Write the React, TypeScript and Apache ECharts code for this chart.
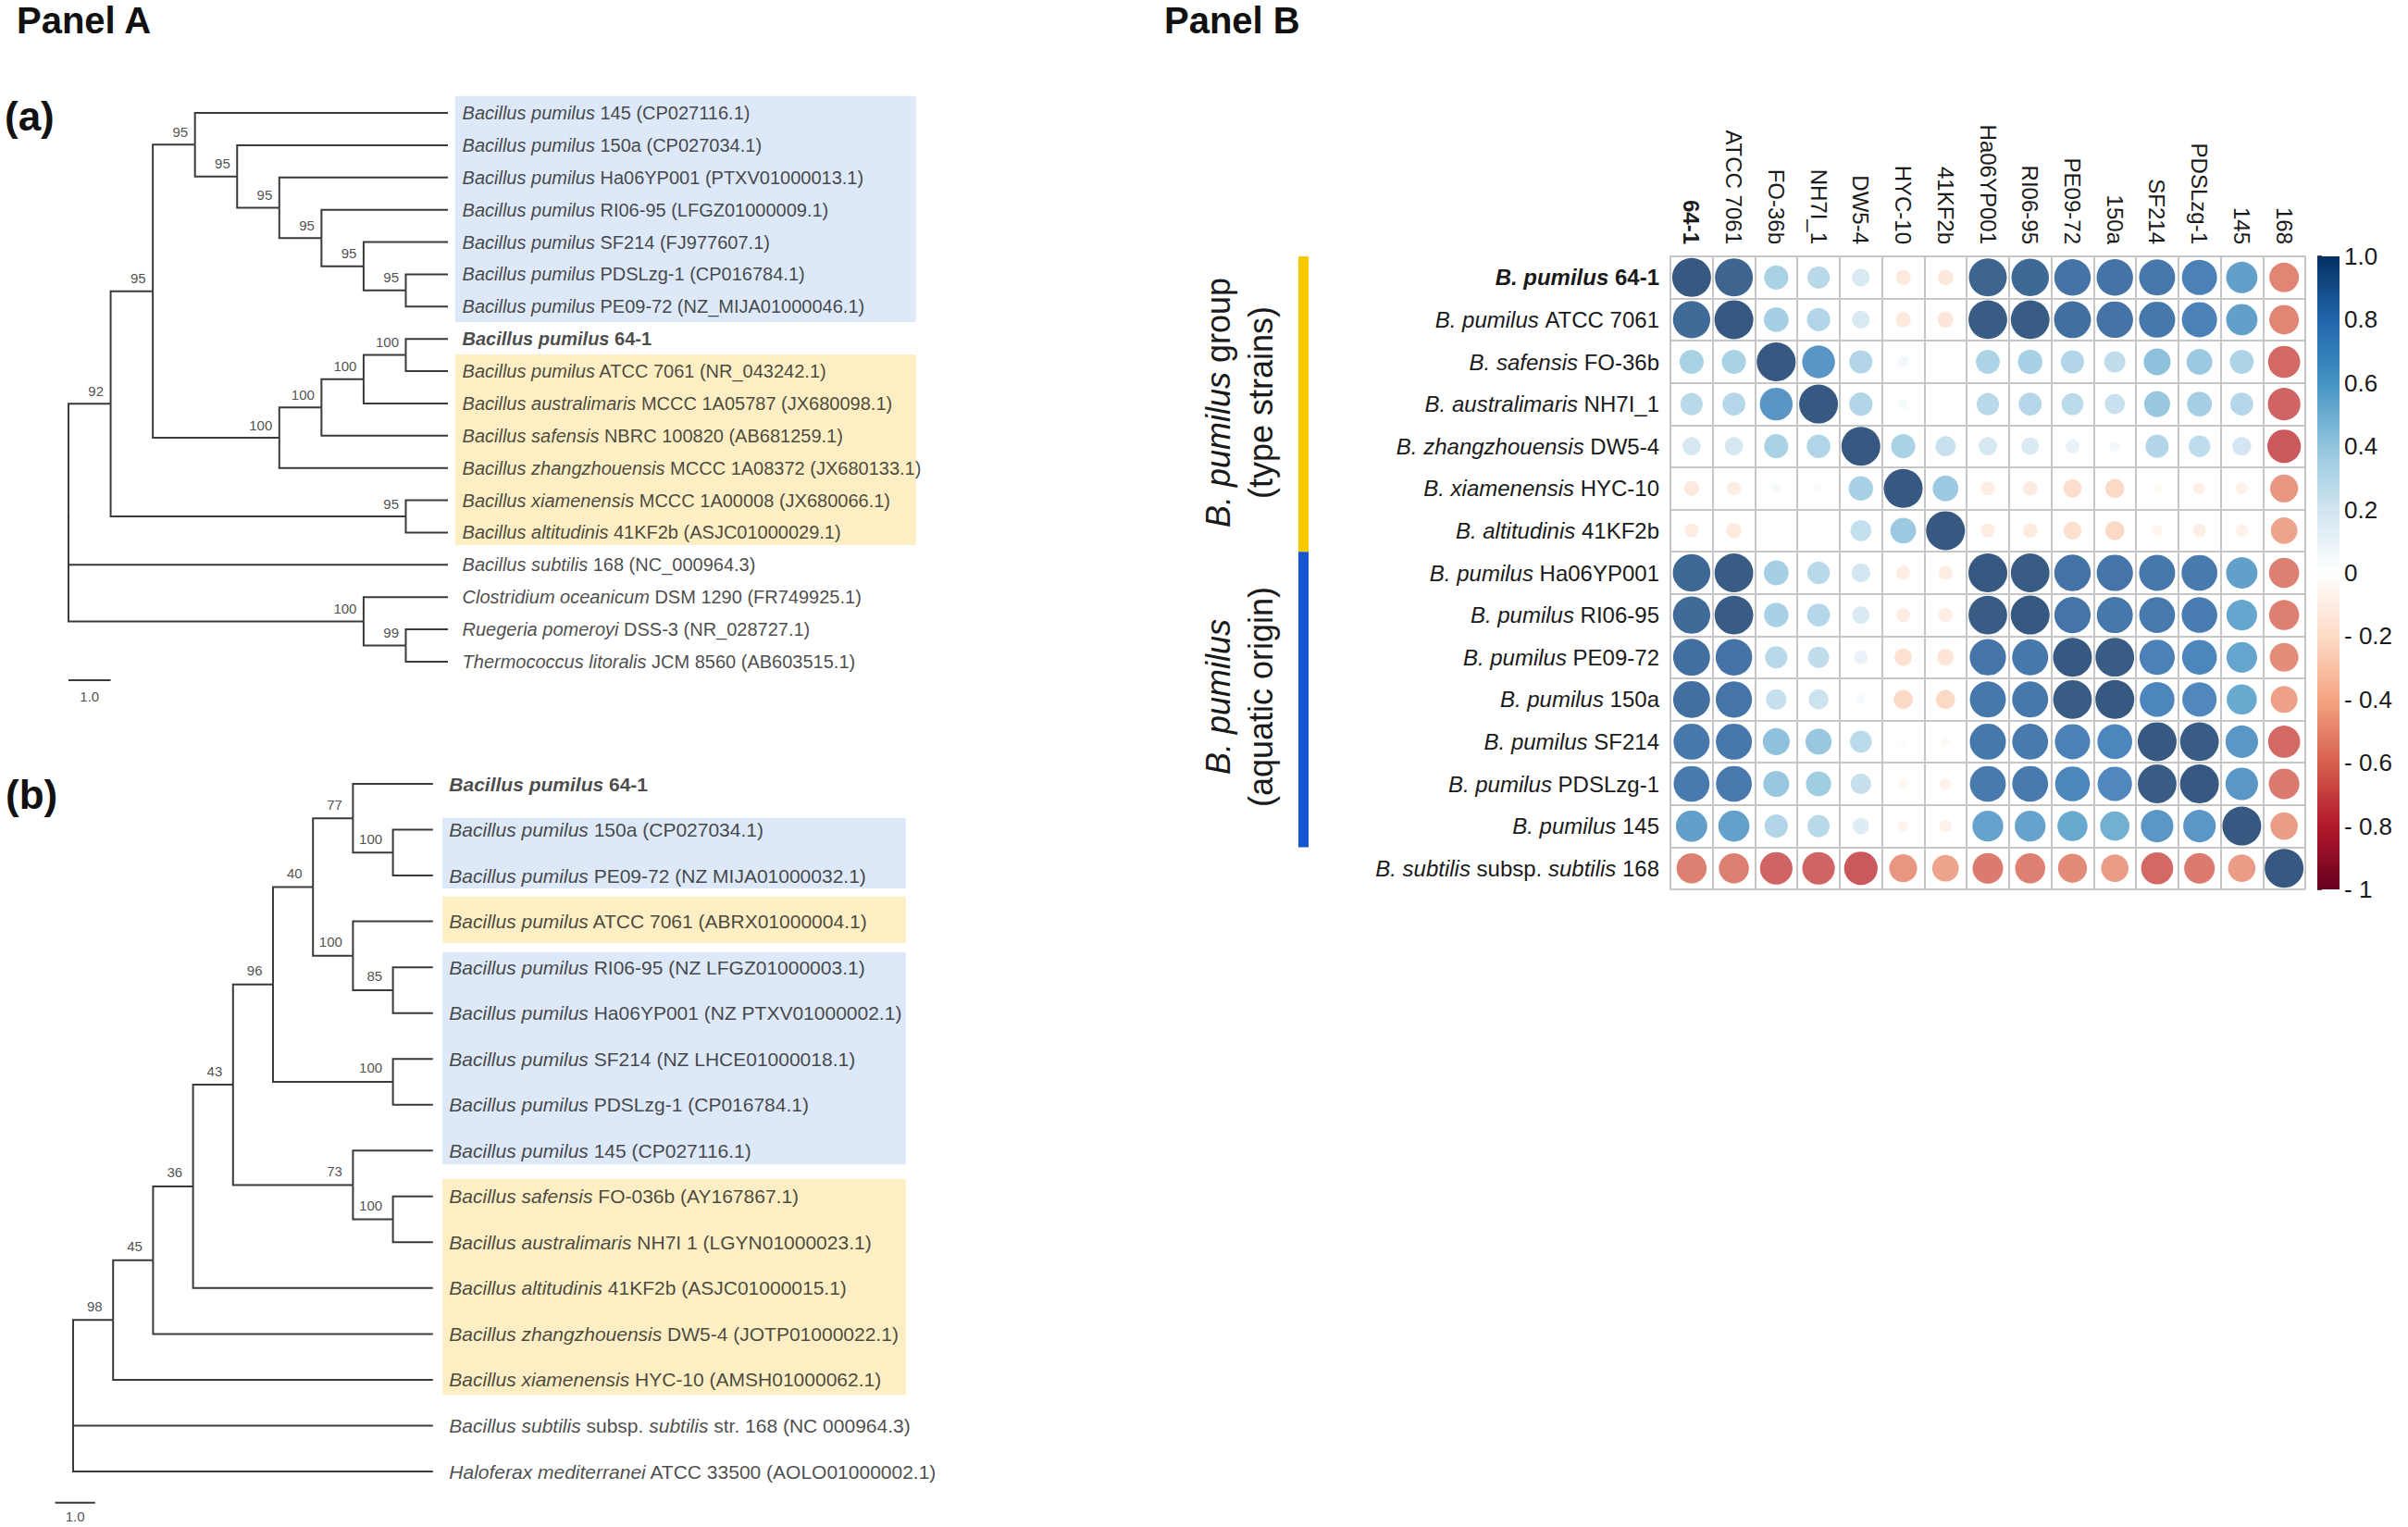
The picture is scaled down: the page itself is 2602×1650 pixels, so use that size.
import React, { useEffect, useRef } from 'react';
import * as echarts from 'echarts';

const FONT = '"Liberation Sans", Arial, Helvetica, sans-serif';
const INK = '#1a1a1a';
const TREE_LINE = '#3a3a3a';

// ---------------- Panel A (a) ----------------
const treeALeaves = [
  '*Bacillus pumilus* 145 (CP027116.1)',
  '*Bacillus pumilus* 150a (CP027034.1)',
  '*Bacillus pumilus* Ha06YP001 (PTXV01000013.1)',
  '*Bacillus pumilus* RI06-95 (LFGZ01000009.1)',
  '*Bacillus pumilus* SF214 (FJ977607.1)',
  '*Bacillus pumilus* PDSLzg-1 (CP016784.1)',
  '*Bacillus pumilus* PE09-72 (NZ_MIJA01000046.1)',
  '*Bacillus pumilus* 64-1',
  '*Bacillus pumilus* ATCC 7061 (NR_043242.1)',
  '*Bacillus australimaris* MCCC 1A05787 (JX680098.1)',
  '*Bacillus safensis* NBRC 100820 (AB681259.1)',
  '*Bacillus zhangzhouensis* MCCC 1A08372 (JX680133.1)',
  '*Bacillus xiamenensis* MCCC 1A00008 (JX680066.1)',
  '*Bacillus altitudinis* 41KF2b (ASJC01000029.1)',
  '*Bacillus subtilis* 168 (NC_000964.3)',
  '*Clostridium oceanicum* DSM 1290 (FR749925.1)',
  '*Ruegeria pomeroyi* DSS-3 (NR_028727.1)',
  '*Thermococcus litoralis* JCM 8560 (AB603515.1)',
];
const treeABoldLeaf = 7;
// node = [support, ...children]; leaf = index into treeALeaves
const treeATopology: any = ['',
  ['92',
    ['95',
      ['95', 0, ['95', 1, ['95', 2, ['95', 3, ['95', 4, ['95', 5, 6]]]]]],
      ['100', ['100', ['100', ['100', 7, 8], 9], 10], 11]],
    ['95', 12, 13]],
  14,
  ['100', 15, ['99', 16, 17]]];
// [x0, y0, x1, y1, colour index]
const treeABoxes = [
  [9.17, -0.52, 20.1, 6.48, 0],
  [9.17, 7.48, 20.1, 13.39, 1],
];
const treeAScaleBar = [[0, 17.57], [1, 17.57]];
const treeAScaleLabel = [[0.5, 18.08, '1.0']];

// ---------------- Panel A (b) ----------------
const treeBLeaves = [
  '*Bacillus pumilus* 64-1',
  '*Bacillus pumilus* 150a (CP027034.1)',
  '*Bacillus pumilus* PE09-72 (NZ MIJA01000032.1)',
  '*Bacillus pumilus* ATCC 7061 (ABRX01000004.1)',
  '*Bacillus pumilus* RI06-95 (NZ LFGZ01000003.1)',
  '*Bacillus pumilus* Ha06YP001 (NZ PTXV01000002.1)',
  '*Bacillus pumilus* SF214 (NZ LHCE01000018.1)',
  '*Bacillus pumilus* PDSLzg-1 (CP016784.1)',
  '*Bacillus pumilus* 145 (CP027116.1)',
  '*Bacillus safensis* FO-036b (AY167867.1)',
  '*Bacillus australimaris* NH7I 1 (LGYN01000023.1)',
  '*Bacillus altitudinis* 41KF2b (ASJC01000015.1)',
  '*Bacillus zhangzhouensis* DW5-4 (JOTP01000022.1)',
  '*Bacillus xiamenensis* HYC-10 (AMSH01000062.1)',
  '*Bacillus subtilis* subsp. *subtilis* str. 168 (NC 000964.3)',
  '*Haloferax mediterranei* ATCC 33500 (AOLO01000002.1)',
];
const treeBBoldLeaf = 0;
const treeBTopology: any = ['',
  ['98',
    ['45',
      ['36',
        ['43',
          ['96',
            ['40', ['77', 0, ['100', 1, 2]], ['100', 3, ['85', 4, 5]]],
            ['100', 6, 7]],
          ['73', 8, ['100', 9, 10]]],
        11],
      12],
    13],
  14,
  15];
const treeBBoxes = [
  [9.24, 0.74, 20.83, 2.28, 0],
  [9.24, 2.46, 20.83, 3.47, 1],
  [9.24, 3.67, 20.83, 8.30, 0],
  [9.24, 8.62, 20.83, 13.33, 1],
];
const treeBScaleBar = [[-0.45, 15.68], [0.55, 15.68]];
const treeBScaleLabel = [[0.05, 15.98, '1.0']];

const boxColors = ['#dde8f8', '#fdefc3'];

// ---------------- Panel B ----------------
const strainCols = ['64-1', 'ATCC 7061', 'FO-36b', 'NH7I_1', 'DW5-4', 'HYC-10', '41KF2b', 'Ha06YP001',
  'RI06-95', 'PE09-72', '150a', 'SF214', 'PDSLzg-1', '145', '168'];
const strainRows = [
  '*B. pumilus* 64-1',
  '*B. pumilus* ATCC 7061',
  '*B. safensis* FO-36b',
  '*B. australimaris* NH7I_1',
  '*B. zhangzhouensis* DW5-4',
  '*B. xiamenensis* HYC-10',
  '*B. altitudinis* 41KF2b',
  '*B. pumilus* Ha06YP001',
  '*B. pumilus* RI06-95',
  '*B. pumilus* PE09-72',
  '*B. pumilus* 150a',
  '*B. pumilus* SF214',
  '*B. pumilus* PDSLzg-1',
  '*B. pumilus* 145',
  '*B. subtilis* subsp. *subtilis* 168',
];
const boldIndex = 0;

const corr64_1 = [1.00, 0.95, 0.39, 0.33, 0.21, -0.15, -0.16, 0.95, 0.93, 0.88, 0.88, 0.86, 0.82, 0.65, -0.58];
const corrATCC = [0.92, 1.00, 0.41, 0.36, 0.21, -0.15, -0.17, 0.99, 0.99, 0.90, 0.88, 0.86, 0.82, 0.65, -0.58];
const corrFO36b = [0.39, 0.39, 1.00, 0.71, 0.36, 0.08, 0.01, 0.38, 0.40, 0.36, 0.30, 0.48, 0.44, 0.38, -0.68];
const corrNH7I = [0.33, 0.35, 0.71, 1.00, 0.36, 0.06, 0.01, 0.33, 0.35, 0.32, 0.27, 0.45, 0.41, 0.35, -0.70];
const corrDW54 = [0.22, 0.22, 0.39, 0.37, 1.00, 0.39, 0.27, 0.22, 0.20, 0.12, 0.07, 0.36, 0.31, 0.23, -0.74];
const corrHYC10 = [-0.15, -0.13, 0.06, 0.05, 0.40, 1.00, 0.44, -0.13, -0.14, -0.22, -0.24, -0.05, -0.10, -0.10, -0.52];
const corr41KF2b = [-0.13, -0.15, 0.00, 0.01, 0.29, 0.44, 1.00, -0.13, -0.14, -0.21, -0.24, -0.07, -0.11, -0.10, -0.47];
const corrHa06 = [0.93, 0.99, 0.41, 0.34, 0.23, -0.13, -0.13, 1.00, 0.99, 0.88, 0.87, 0.86, 0.85, 0.65, -0.60];
const corrRI06 = [0.92, 0.99, 0.40, 0.35, 0.20, -0.13, -0.13, 0.99, 1.00, 0.87, 0.86, 0.85, 0.84, 0.62, -0.60];
const corrPE09 = [0.90, 0.88, 0.33, 0.30, 0.12, -0.20, -0.18, 0.87, 0.86, 1.00, 0.99, 0.82, 0.80, 0.62, -0.55];
const corr150a = [0.90, 0.87, 0.28, 0.26, 0.06, -0.24, -0.24, 0.86, 0.86, 0.99, 1.00, 0.80, 0.78, 0.60, -0.48];
const corrSF214 = [0.86, 0.86, 0.48, 0.45, 0.32, -0.03, -0.05, 0.86, 0.85, 0.82, 0.80, 1.00, 0.99, 0.70, -0.68];
const corrPDSL = [0.85, 0.85, 0.45, 0.42, 0.28, -0.06, -0.09, 0.85, 0.85, 0.80, 0.78, 0.99, 1.00, 0.70, -0.62];
const corr145 = [0.65, 0.64, 0.36, 0.33, 0.18, -0.08, -0.10, 0.63, 0.63, 0.60, 0.57, 0.70, 0.70, 1.00, -0.50];
const corr168 = [-0.60, -0.60, -0.70, -0.70, -0.74, -0.52, -0.47, -0.62, -0.60, -0.56, -0.50, -0.68, -0.62, -0.50, 1.00];
const corrRows = [corr64_1, corrATCC, corrFO36b, corrNH7I, corrDW54, corrHYC10, corr41KF2b, corrHa06, corrRI06,
  corrPE09, corr150a, corrSF214, corrPDSL, corr145, corr168];

const rdBu = ['#67001F', '#B2182B', '#D6604D', '#F4A582', '#FDDBC7', '#FFFFFF', '#D1E5F0', '#92C5DE', '#4393C3', '#2166AC', '#053061'];
const colorbarLabels = ['1.0', '0.8', '0.6', '0.4', '0.2', '0', '- 0.2', '- 0.4', '- 0.6', '- 0.8', '- 1'];
// [first row, last row, colour]
const groupBars = [[0, 6, '#f9c800'], [7, 13, '#1556d3']];

// ---------------- helpers ----------------
function heightOf(n: any): number {
  return typeof n === 'number' ? 0 : 1 + Math.max(...n.slice(1).map(heightOf));
}
function layoutTree(topo: any) {
  const H = heightOf(topo);
  const edges: number[][] = [];
  const nodes: any[] = [];
  const walk = (n: any): { x: number; y: number } => {
    if (typeof n === 'number') return { x: H, y: n };
    const kids = n.slice(1).map(walk);
    const x = H - heightOf(n);
    const y = (kids[0].y + kids[kids.length - 1].y) / 2;
    kids.forEach((k: any) => edges.push([x, y, k.x, k.y]));
    if (n[0]) nodes.push([x, y, n[0]]);
    return { x, y };
  };
  walk(topo);
  return { H, edges, nodes };
}
function toRich(s: string, bold: boolean) {
  return s.split('*').map((p, i) => {
    if (!p) return '';
    const key = (i % 2 ? 'i' : 'n') + (bold ? 'b' : '');
    return `{${key}|${p}}`;
  }).join('');
}
function richStyles(size: number) {
  const base = { fontFamily: FONT, fontSize: size, color: INK };
  return {
    n: { ...base },
    i: { ...base, fontStyle: 'italic' },
    nb: { ...base, fontWeight: 'bold' },
    ib: { ...base, fontWeight: 'bold', fontStyle: 'italic' },
  };
}

function treeSeries(idx: number, topo: any, leaves: string[], bold: number, boxes: number[][], bar: number[][],
  barLabel: any[], leafSize: number, supOffset: number[], leafGap: number) {
  const { H, edges, nodes } = layoutTree(topo);
  return [
    {
      type: 'custom', xAxisIndex: idx, yAxisIndex: idx, z: 1, silent: true, clip: false,
      data: boxes,
      renderItem: (_p: any, api: any) => {
        const a = api.coord([api.value(0), api.value(1)]);
        const b = api.coord([api.value(2), api.value(3)]);
        return {
          type: 'rect',
          shape: { x: a[0], y: a[1], width: b[0] - a[0], height: b[1] - a[1] },
          style: { fill: boxColors[api.value(4)] },
        };
      },
    },
    {
      type: 'custom', xAxisIndex: idx, yAxisIndex: idx, z: 3, silent: true, clip: false,
      data: edges,
      renderItem: (_p: any, api: any) => {
        const p = api.coord([api.value(0), api.value(1)]);
        const m = api.coord([api.value(0), api.value(3)]);
        const c = api.coord([api.value(2), api.value(3)]);
        return {
          type: 'polyline',
          shape: { points: [p, m, c] },
          style: { stroke: TREE_LINE, lineWidth: 2, fill: null, lineJoin: 'miter' },
        };
      },
    },
    {
      type: 'scatter', xAxisIndex: idx, yAxisIndex: idx, z: 4, silent: true, clip: false,
      symbolSize: 1, itemStyle: { color: 'transparent' },
      data: leaves.map((s, i) => [H, i, toRich(s, i === bold)]),
      label: {
        show: true, position: 'right', distance: leafGap,
        formatter: (p: any) => p.data[2],
        rich: richStyles(leafSize),
      },
    },
    {
      type: 'scatter', xAxisIndex: idx, yAxisIndex: idx, z: 4, silent: true, clip: false,
      symbolSize: 1, itemStyle: { color: 'transparent' },
      data: nodes,
      label: {
        show: true, position: supOffset, align: 'right', verticalAlign: 'bottom',
        formatter: (p: any) => p.data[2],
        fontFamily: FONT, fontSize: 15, color: '#222',
      },
    },
    {
      type: 'line', xAxisIndex: idx, yAxisIndex: idx, z: 3, silent: true, clip: false,
      data: bar, symbol: 'none', lineStyle: { color: TREE_LINE, width: 2 },
    },
    {
      type: 'scatter', xAxisIndex: idx, yAxisIndex: idx, z: 4, silent: true, clip: false,
      symbolSize: 1, itemStyle: { color: 'transparent' },
      data: barLabel,
      label: {
        show: true, position: 'inside', formatter: (p: any) => p.data[2],
        fontFamily: FONT, fontSize: 15, color: '#222',
      },
    },
  ];
}

const hiddenValueAxis = (gridIndex: number, min: number, max: number, inverse = false) => ({
  type: 'value', gridIndex, min, max, inverse,
  show: false, splitLine: { show: false },
});

export default function App() {
  const ref = useRef<HTMLDivElement>(null);
  useEffect(() => {
    document.body.style.margin = '0';
    document.body.style.overflow = 'hidden';
    if (!ref.current) return;
    const chart = echarts.init(ref.current, undefined, { renderer: 'svg' });

    const stepA = 45.56, stepB = 43.2;
    const gridBorder = { color: '#c6c6c6', width: 2 };

    const heatData: number[][] = [];
    corrRows.forEach((row, r) => row.forEach((v, c) => heatData.push([c, r, v])));

    const treeA = treeSeries(0, treeATopology, treeALeaves, treeABoldLeaf, treeABoxes, treeAScaleBar,
      treeAScaleLabel, 20, [-7, -6], 15);
    const treeB = treeSeries(1, treeBTopology, treeBLeaves, treeBBoldLeaf, treeBBoxes, treeBScaleBar,
      treeBScaleLabel, 21, [-11, -7], 17);

    const heatSeriesIndex = treeA.length + treeB.length;

    const option: any = {
      animation: false,
      backgroundColor: '#ffffff',
      textStyle: { fontFamily: FONT },
      grid: [
        { left: 74, top: 122, width: 21 * stepA, height: 593 },
        { left: 79 - stepB, top: 847, width: 22 * stepB, height: 743 },
        { left: 1805, top: 277, width: 686, height: 684 },
        { left: 2504, top: 277, width: 24, height: 684 },
      ],
      xAxis: [
        hiddenValueAxis(0, 0, 21),
        hiddenValueAxis(1, -1, 21),
        {
          type: 'category', gridIndex: 2, data: strainCols, position: 'top',
          axisTick: { show: false },
          axisLine: { show: true, lineStyle: gridBorder },
          splitLine: { show: true, interval: 0, lineStyle: gridBorder },
          axisLabel: {
            interval: 0, rotate: 90, margin: 13, color: INK,
            fontFamily: FONT, fontSize: 24,
            formatter: (v: string, i: number) => (i === boldIndex ? `{b|${v}}` : `{n|${v}}`),
            rich: {
              n: { fontFamily: FONT, fontSize: 24, color: INK },
              b: { fontFamily: FONT, fontSize: 24, color: INK, fontWeight: 'bold' },
            },
          },
        },
        hiddenValueAxis(3, 0, 1),
      ],
      yAxis: [
        hiddenValueAxis(0, 0, 17, true),
        hiddenValueAxis(1, 0, 15, true),
        {
          type: 'category', gridIndex: 2, data: strainRows, inverse: true,
          axisTick: { show: false },
          axisLine: { show: true, lineStyle: gridBorder },
          splitLine: { show: true, interval: 0, lineStyle: gridBorder },
          axisLabel: {
            interval: 0, margin: 12,
            formatter: (v: string, i: number) => toRich(v, i === boldIndex),
            rich: richStyles(24),
          },
        },
        {
          type: 'value', gridIndex: 3, min: -1, max: 1, interval: 0.2, position: 'right',
          axisLine: { show: false },
          splitLine: { show: false },
          axisTick: { show: true, length: 5, lineStyle: { color: '#111', width: 1.5 } },
          axisLabel: {
            margin: 5, color: INK, fontFamily: FONT, fontSize: 26,
            formatter: (v: number) => colorbarLabels[Math.round((1 - v) / 0.2)],
          },
        },
      ],
      visualMap: [{
        type: 'continuous', show: false, seriesIndex: heatSeriesIndex, dimension: 2,
        min: -1, max: 1, inRange: { color: rdBu },
      }],
      series: [
        ...treeA,
        ...treeB,
        {
          type: 'scatter', xAxisIndex: 2, yAxisIndex: 2, z: 5, silent: true,
          data: heatData,
          symbolSize: (d: number[]) => 42 * Math.sqrt(Math.abs(d[2])),
        },
        {
          type: 'custom', xAxisIndex: 3, yAxisIndex: 3, silent: true,
          data: [[0, 1, 1, -1]],
          renderItem: (_p: any, api: any) => {
            const a = api.coord([api.value(0), api.value(1)]);
            const b = api.coord([api.value(2), api.value(3)]);
            const stops = rdBu.slice().reverse().map((c, i) => ({ offset: i / (rdBu.length - 1), color: c }));
            return {
              type: 'rect',
              shape: { x: a[0], y: a[1], width: b[0] - a[0], height: b[1] - a[1] },
              style: { fill: new echarts.graphic.LinearGradient(0, 0, 0, 1, stops) },
            };
          },
        },
        {
          type: 'custom', xAxisIndex: 2, yAxisIndex: 2, silent: true, clip: false,
          data: groupBars.map((g) => [g[0], g[1], g[2]]),
          renderItem: (params: any, api: any) => {
            const top = api.coord([0, api.value(0)]);
            const bot = api.coord([0, api.value(1)]);
            const band = api.size([0, 1])[1];
            const x = params.coordSys.x - 402;
            return {
              type: 'rect',
              shape: { x, y: top[1] - band / 2, width: 11, height: bot[1] - top[1] + band },
              style: { fill: groupBars[params.dataIndex][2] as string },
            };
          },
        },
      ],
      graphic: [
        { type: 'text', left: 18, top: 2, style: { text: 'Panel A', fontFamily: FONT, fontSize: 40, fontWeight: 'bold', fill: '#111' } },
        { type: 'text', left: 1258, top: 2, style: { text: 'Panel B', fontFamily: FONT, fontSize: 40, fontWeight: 'bold', fill: '#111' } },
        { type: 'text', x: 5, y: 125, style: { text: '(a)', fontFamily: FONT, fontSize: 44, fontWeight: 'bold', fill: '#111', verticalAlign: 'middle' } },
        { type: 'text', x: 6, y: 858, style: { text: '(b)', fontFamily: FONT, fontSize: 44, fontWeight: 'bold', fill: '#111', verticalAlign: 'middle' } },
        {
          type: 'text', x: 1339, y: 435, rotation: Math.PI / 2,
          style: {
            text: '{i|B. pumilus}{n| group}\n{n|(type strains)}',
            align: 'center', verticalAlign: 'middle', lineHeight: 46,
            rich: {
              n: { fontFamily: FONT, fontSize: 36, fill: INK, lineHeight: 46 },
              i: { fontFamily: FONT, fontSize: 36, fill: INK, fontStyle: 'italic', lineHeight: 46 },
            },
          },
        },
        {
          type: 'text', x: 1339, y: 753, rotation: Math.PI / 2,
          style: {
            text: '{i|B. pumilus}\n{n|(aquatic origin)}',
            align: 'center', verticalAlign: 'middle', lineHeight: 46,
            rich: {
              n: { fontFamily: FONT, fontSize: 36, fill: INK, lineHeight: 46 },
              i: { fontFamily: FONT, fontSize: 36, fill: INK, fontStyle: 'italic', lineHeight: 46 },
            },
          },
        },
      ],
    };

    chart.setOption(option);
    return () => chart.dispose();
  }, []);

  return <div ref={ref} style={{ width: 2602, height: 1650, background: '#fff' }} />;
}
